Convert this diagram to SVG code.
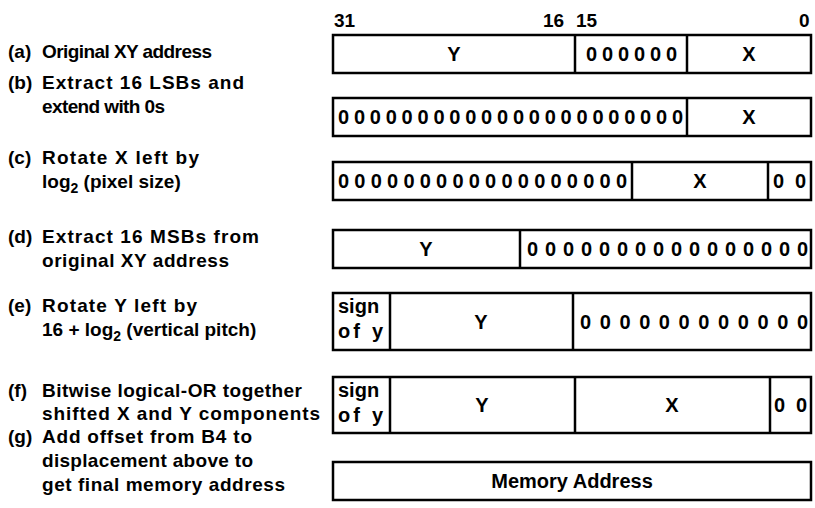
<svg xmlns="http://www.w3.org/2000/svg" width="815" height="508" viewBox="0 0 815 508">
<style>
text{font-family:"Liberation Sans",Arial,Helvetica,sans-serif;font-weight:bold;font-size:20px;fill:#000}
.lbl{font-size:19px}
.c{text-anchor:middle}
.box{fill:#fff;stroke:#000;stroke-width:2.5}
.div{stroke:#000;stroke-width:2.5;fill:none}
.sub{font-size:14px}
.hd{font-size:19px}
</style>
<rect width="815" height="508" fill="#fff"/>

<g id="header">
<text class="hd" x="334" y="27">31</text>
<text class="hd" x="543" y="27">16</text>
<text class="hd" x="576" y="27">15</text>
<text class="hd" x="799" y="27">0</text>
</g>

<g id="labels">
<g id="label-a">
<text class="lbl" x="8" y="58">(a)</text>
<text class="lbl" x="42" y="58" textLength="170" lengthAdjust="spacing">Original XY address</text>
</g>
<g id="label-b">
<text class="lbl" x="8" y="89">(b)</text>
<text class="lbl" x="42" y="89" textLength="202" lengthAdjust="spacing">Extract 16 LSBs and</text>
<text class="lbl" x="42" y="113" textLength="123" lengthAdjust="spacing">extend with 0s</text>
</g>
<g id="label-c">
<text class="lbl" x="8" y="164">(c)</text>
<text class="lbl" x="42" y="164" textLength="157" lengthAdjust="spacing">Rotate X left by</text>
<text class="lbl" x="42" y="188">log<tspan class="sub" dy="5">2</tspan><tspan dy="-5"> (pixel size)</tspan></text>
</g>
<g id="label-d">
<text class="lbl" x="8" y="243">(d)</text>
<text class="lbl" x="42" y="243" textLength="217" lengthAdjust="spacing">Extract 16 MSBs from</text>
<text class="lbl" x="42" y="267" textLength="187" lengthAdjust="spacing">original XY address</text>
</g>
<g id="label-e">
<text class="lbl" x="8" y="312">(e)</text>
<text class="lbl" x="42" y="312" textLength="155" lengthAdjust="spacing">Rotate Y left by</text>
<text class="lbl" x="42" y="336">16 + log<tspan class="sub" dy="5">2</tspan><tspan dy="-5"> (vertical pitch)</tspan></text>
</g>
<g id="label-f">
<text class="lbl" x="8" y="397">(f)</text>
<text class="lbl" x="42" y="397" textLength="260" lengthAdjust="spacing">Bitwise logical-OR together</text>
<text class="lbl" x="42" y="420" textLength="278" lengthAdjust="spacing">shifted X and Y components</text>
</g>
<g id="label-g">
<text class="lbl" x="8" y="443">(g)</text>
<text class="lbl" x="42" y="443" textLength="210" lengthAdjust="spacing">Add offset from B4 to</text>
<text class="lbl" x="42" y="467" textLength="211" lengthAdjust="spacing">displacement above to</text>
<text class="lbl" x="42" y="491" textLength="243" lengthAdjust="spacing">get final memory address</text>
</g>
</g>

<g id="row-a">
<rect class="box" x="333" y="35" width="478" height="38"/>
<line class="div" x1="575" y1="35" x2="575" y2="73"/>
<line class="div" x1="687" y1="35" x2="687" y2="73"/>
<text class="c" x="454" y="61">Y</text>
<text x="586" y="61" textLength="91" lengthAdjust="spacing">000000</text>
<text class="c" x="749" y="61">X</text>
</g>

<g id="row-b">
<rect class="box" x="333" y="98" width="478" height="38"/>
<line class="div" x1="687" y1="98" x2="687" y2="136"/>
<text x="338" y="124" textLength="345" lengthAdjust="spacing">0000000000000000000000</text>
<text class="c" x="749" y="124">X</text>
</g>

<g id="row-c">
<rect class="box" x="333" y="162" width="478" height="38"/>
<line class="div" x1="632" y1="162" x2="632" y2="200"/>
<line class="div" x1="768" y1="162" x2="768" y2="200"/>
<text x="338" y="188" textLength="289" lengthAdjust="spacing">000000000000000000</text>
<text class="c" x="700" y="188">X</text>
<text x="773" y="188" textLength="33" lengthAdjust="spacing">00</text>
</g>

<g id="row-d">
<rect class="box" x="333" y="230" width="478" height="38"/>
<line class="div" x1="520" y1="230" x2="520" y2="268"/>
<text class="c" x="426" y="256">Y</text>
<text x="527" y="256" textLength="281" lengthAdjust="spacing">0000000000000000</text>
</g>

<g id="row-e">
<rect class="box" x="333" y="293" width="478" height="57"/>
<line class="div" x1="390" y1="293" x2="390" y2="350"/>
<line class="div" x1="573" y1="293" x2="573" y2="350"/>
<text x="338" y="313">sign</text>
<text x="338" y="338" textLength="45" lengthAdjust="spacing">of y</text>
<text class="c" x="481" y="329">Y</text>
<text x="580" y="329" textLength="228" lengthAdjust="spacing">000000000000</text>
</g>

<g id="row-f">
<rect class="box" x="333" y="377" width="478" height="56"/>
<line class="div" x1="390" y1="377" x2="390" y2="433"/>
<line class="div" x1="575" y1="377" x2="575" y2="433"/>
<line class="div" x1="770" y1="377" x2="770" y2="433"/>
<text x="338" y="397">sign</text>
<text x="338" y="422" textLength="45" lengthAdjust="spacing">of y</text>
<text class="c" x="482" y="412">Y</text>
<text class="c" x="672" y="412">X</text>
<text x="774" y="412" textLength="33" lengthAdjust="spacing">00</text>
</g>

<g id="row-g">
<rect class="box" x="333" y="462" width="478" height="38"/>
<text class="c" x="572" y="488">Memory Address</text>
</g>

<g id="connectors"/>
</svg>
